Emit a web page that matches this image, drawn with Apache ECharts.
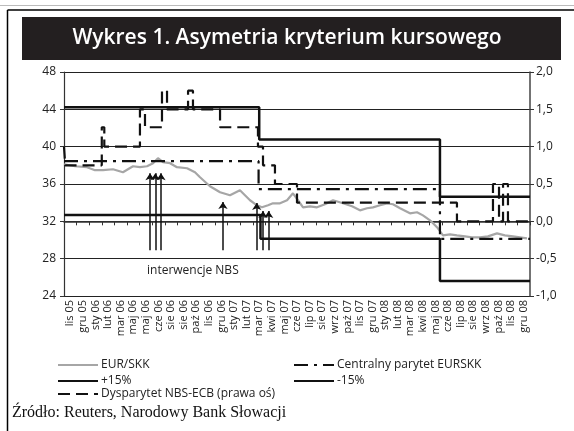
<!DOCTYPE html>
<html>
<head>
<meta charset="utf-8">
<script src="https://cdn.jsdelivr.net/npm/echarts@6/dist/echarts.min.js"></script>
<style>
  html, body { margin: 0; padding: 0; background: #fff; }
  #chart { width: 574px; height: 431px; }
</style>
</head>
<body>
<div id="chart"></div>
<script>
// etykiety osi X (miesiące)
const months = ['lis 05','gru 05','sty 06','lut 06','mar 06','maj 06','maj 06','cze 06','sie 06','sie 06',
  'paź 06','lis 06','gru 06','sty 07','lut 07','mar 07','kwi 07','maj 07','cze 07','lip 07','sie 07',
  'wrz 07','paź 07','lis 07','gru 07','sty 08','lut 08','mar 08','kwi 08','maj 08','cze 08','lip 08',
  'sie 08','wrz 08','paź 08','lis 08','gru 08'];

// [pozycja w miesiącach, wartość]
const eurSkk = [[0,38.12],[0.87,37.9],[1.83,37.8],[2.46,37.48],[3.1,37.48],[3.89,37.58],[4.68,37.26],
  [5.48,37.9],[6.03,37.8],[6.59,37.9],[7.07,38.23],[7.46,38.77],[7.86,38.34],[8.42,38.23],[8.97,37.8],
  [9.77,37.69],[10.4,37.26],[10.8,36.72],[11.59,35.76],[12.39,35.11],[13.18,34.79],[13.97,35.33],
  [14.77,34.26],[15.32,33.72],[15.72,33.5],[16.2,33.72],[16.59,33.93],[17.15,33.93],[17.71,34.26],
  [18.18,35.0],[18.58,34.26],[18.98,33.5],[19.53,33.61],[20.09,33.5],[20.72,33.83],[21.36,34.26],
  [22.15,33.93],[22.87,33.61],[23.5,33.18],[24.06,33.4],[24.53,33.5],[25.09,33.72],[25.65,33.93],
  [26.12,33.83],[26.68,33.4],[27.47,32.86],[28.03,32.97],[28.5,32.64],[29.06,32.11],[29.46,31.57],
  [29.69,31.25],[30.09,30.5],[30.65,30.6],[31.2,30.5],[31.84,30.39],[32.39,30.28],[33.03,30.28],
  [33.66,30.39],[34.38,30.71],[35.01,30.5],[35.65,30.39],[36.2,30.28],[36.76,30.17]];

const centralParity = [[0,38.4555],[15.45,38.4555],[15.45,35.4424],[29.85,35.4424],[29.85,30.126],[37,30.126]];
const plus15 = [[0,44.22],[15.5,44.22],[15.5,40.76],[29.85,40.76],[29.85,34.64],[37,34.64]];
const minus15 = [[0,32.69],[15.6,32.69],[15.6,30.13],[29.85,30.13],[29.85,25.61],[37,25.61]];

// dysparytet NBS-ECB (prawa oś)
const disparity = [[0,1.0],[0.1,1.0],[0.1,0.75],[3.0,0.75],[3.0,1.26],[3.2,1.26],[3.2,1.0],[6.03,1.0],
  [6.03,1.5],[6.43,1.5],[6.43,1.26],[7.78,1.26],[7.78,1.75],[8.18,1.75],[8.18,1.5],[9.85,1.5],
  [9.85,1.75],[10.24,1.75],[10.24,1.5],[12.39,1.5],[12.39,1.26],[15.4,1.26],[15.4,1.0],[15.8,1.0],
  [15.8,0.75],[16.75,0.75],[16.75,0.5],[18.5,0.5],[18.5,0.25],[31.2,0.25],[31.2,0.0],[34.06,0.0],
  [34.06,0.5],[34.54,0.5],[34.54,0.0],[34.86,0.0],[34.86,0.5],[35.25,0.5],[35.25,0.0],[37,0.0]];

// interwencje NBS
const arrowX = [6.83, 7.25, 7.7, 12.62, 15.3, 15.8, 16.25];
const arrowTop = [37.15, 37.15, 37.15, 34.07, 33.96, 33.1, 33.1];
const arrowBase = 28.9;

const chart = echarts.init(document.getElementById('chart'));
const txt = '#222';
const font = 'Open Sans';

const option = {
  animation: false,
  textStyle: { fontFamily: font },
  title: {
    text: 'Wykres 1. Asymetria kryterium kursowego',
    left: 'center',
    top: 23,
    textStyle: { color: '#fff', fontSize: 21, fontWeight: 600, fontFamily: font }
  },
  graphic: [
    { type: 'line', shape: { x1: 0, y1: 5.5, x2: 574, y2: 5.5 }, style: { stroke: '#bbb', lineWidth: 1 } },
    { type: 'line', shape: { x1: 7.5, y1: 10, x2: 574, y2: 10 }, style: { stroke: '#000', lineWidth: 1.5 } },
    { type: 'line', shape: { x1: 7.5, y1: 10, x2: 7.5, y2: 431 }, style: { stroke: '#000', lineWidth: 1.5 } },
    { type: 'rect', z: -1, shape: { x: 22, y: 17, width: 539, height: 43 }, style: { fill: '#231f20' } },
    { type: 'text', left: 147, top: 265, style: { text: 'interwencje NBS', fill: txt, font: '12px "Open Sans"' } },
    { type: 'text', left: 12, top: 405, style: { text: 'Źródło: Reuters, Narodowy Bank Słowacji', fill: '#111', font: '16px "Liberation Serif"' } }
  ],
  legend: [
    { data: ['EUR/SKK'], left: 57, top: 359 },
    { data: ['Centralny parytet EURSKK'], left: 293, top: 359 },
    { data: ['+15%'], left: 57, top: 375 },
    { data: ['-15%'], left: 293, top: 375 },
    { data: ['Dysparytet NBS-ECB (prawa oś)'], left: 57, top: 388 }
  ].map(l => Object.assign(l, {
    itemWidth: 40, itemHeight: 10, itemGap: 2, padding: 0, selectedMode: false,
    itemStyle: { opacity: 0 },
    textStyle: { color: txt, fontSize: 12, fontFamily: font, padding: [0, 0, 0, -2] }
  })),
  grid: { left: 64, right: 44, top: 72, bottom: 135 },
  xAxis: [
    {
      type: 'category',
      data: months.map((m, i) => String(i)),
      boundaryGap: true,
      axisLine: { lineStyle: { color: '#333', width: 1.5 } },
      axisTick: { show: true, length: 4, lineStyle: { color: '#333' } },
      axisLabel: {
        interval: 0, rotate: 90, fontSize: 11, color: txt, margin: 4, fontFamily: font,
        formatter: v => months[+v]
      }
    },
    { type: 'value', min: 0, max: 37, show: false }
  ],
  yAxis: [
    {
      type: 'value', min: 24, max: 48, interval: 4,
      axisLine: { show: true, lineStyle: { color: '#333', width: 1.2 } },
      axisTick: { show: true, length: 4, lineStyle: { color: '#333' } },
      axisLabel: { color: txt, fontSize: 12, margin: 8 },
      splitLine: { lineStyle: { color: '#222', width: 1 } }
    },
    {
      type: 'value', min: -1, max: 2, interval: 0.5,
      axisLine: { show: true, lineStyle: { color: '#444', width: 1.5 } },
      axisTick: { show: true, length: 4, lineStyle: { color: '#333' } },
      axisLabel: { color: txt, fontSize: 12, margin: 6, formatter: v => v.toFixed(1).replace('.', ',') },
      splitLine: { show: false }
    }
  ],
  series: [
    {
      name: 'EUR/SKK', type: 'line', xAxisIndex: 1, yAxisIndex: 0, data: eurSkk,
      symbol: 'none', z: 3,
      lineStyle: { color: '#a6a6a6', width: 2.2 }, itemStyle: { color: '#a6a6a6' },
      markLine: {
        silent: true,
        symbol: ['none', 'arrow'],
        symbolSize: 7,
        label: { show: false },
        lineStyle: { color: '#111', width: 1.5, type: 'solid' },
        data: arrowX.map((x, i) => [{ coord: [x, arrowBase] }, { coord: [x, arrowTop[i]] }])
      }
    },
    {
      name: 'Centralny parytet EURSKK', type: 'line', xAxisIndex: 1, yAxisIndex: 0, data: centralParity,
      symbol: 'none', z: 4,
      lineStyle: { color: '#111', width: 2.2, type: [14, 6, 3, 6] }, itemStyle: { color: '#111' }
    },
    {
      name: '+15%', type: 'line', xAxisIndex: 1, yAxisIndex: 0, data: plus15,
      symbol: 'none', z: 4,
      lineStyle: { color: '#111', width: 2.5 }, itemStyle: { color: '#111' }
    },
    {
      name: '-15%', type: 'line', xAxisIndex: 1, yAxisIndex: 0, data: minus15,
      symbol: 'none', z: 4,
      lineStyle: { color: '#111', width: 2.5 }, itemStyle: { color: '#111' }
    },
    {
      name: 'Dysparytet NBS-ECB (prawa oś)', type: 'line', xAxisIndex: 1, yAxisIndex: 1, data: disparity,
      symbol: 'none', z: 5,
      lineStyle: { color: '#111', width: 2.2, type: [12, 6] }, itemStyle: { color: '#111' }
    }
  ]
};

chart.setOption(option);
</script>
</body>
</html>
